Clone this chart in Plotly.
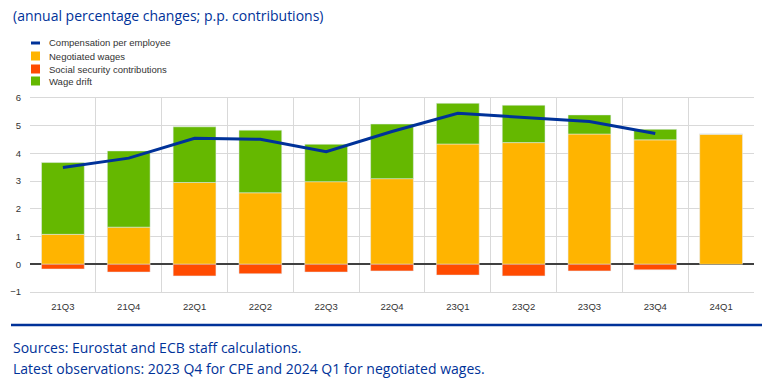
import plotly.graph_objects as go

categories = ["21Q3", "21Q4", "22Q1", "22Q2", "22Q3", "22Q4", "23Q1", "23Q2", "23Q3", "23Q4", "24Q1"]
negotiated_wages = [1.08, 1.34, 2.95, 2.58, 2.98, 3.09, 4.34, 4.39, 4.70, 4.49, 4.70]
social_security = [-0.17, -0.28, -0.42, -0.34, -0.28, -0.24, -0.39, -0.42, -0.24, -0.20, 0.0]
wage_drift = [2.59, 2.75, 2.01, 2.26, 1.35, 1.97, 1.47, 1.35, 0.69, 0.38, 0.0]
compensation = [3.49, 3.83, 4.55, 4.51, 4.06, 4.79, 5.45, 5.31, 5.15, 4.72, None]

legend_labels = ["Compensation per employee", "Negotiated wages", "Social security contributions", "Wage drift"]
subtitle = "(annual percentage changes; p.p. contributions)"
note1 = "Sources: Eurostat and ECB staff calculations."
note2 = "Latest observations: 2023 Q4 for CPE and 2024 Q1 for negotiated wages."

W, H = 765, 383
L, R, T, B = 30, 754, 98, 292
C_NEG, C_SSC, C_DRIFT, C_LINE = "#FFB400", "#FF4B00", "#65B800", "#003299"
BLUE = "#003299"

def px_x(x):
    return (x - L) / (R - L)

def px_y(y):
    return (B - y) / (B - T)

fig = go.Figure()
fig.add_bar(x=categories, y=negotiated_wages, marker_color=C_NEG, name=legend_labels[1])
fig.add_bar(x=categories, y=social_security, marker_color=C_SSC, name=legend_labels[2])
fig.add_bar(x=categories, y=wage_drift, marker_color=C_DRIFT, name=legend_labels[3])
fig.add_scatter(x=categories, y=compensation, mode="lines", line=dict(color=C_LINE, width=3),
                name=legend_labels[0])

fig.update_layout(
    width=W, height=H,
    margin=dict(l=L, r=W - R, t=T, b=H - B, pad=0),
    paper_bgcolor="white", plot_bgcolor="white",
    barmode="relative", bargap=0.35,
    showlegend=False,
    font=dict(family="Arial, Liberation Sans", size=9, color="#333333"),
)
fig.update_xaxes(type="category", tickson="boundaries", showgrid=True, gridcolor="#d9d9d9",
                 gridwidth=1, ticks="", tickfont=dict(size=9.5, color="#333333"),
                 showline=True, linecolor="#d9d9d9", mirror=True, ticklabelstandoff=6)
fig.update_yaxes(range=[-1, 6], dtick=1, showgrid=True, gridcolor="#d9d9d9", gridwidth=1,
                 zeroline=True, zerolinecolor="#404040", zerolinewidth=1.5,
                 tickfont=dict(size=9.5, color="#333333"), ticks="", ticklabelstandoff=8,
                 showline=False)

annotations = []
shapes = []
annotations.append(dict(text=subtitle, x=px_x(11), y=px_y(16), xref="paper", yref="paper",
                        xanchor="left", yanchor="middle", showarrow=False,
                        font=dict(family="Open Sans", size=14, color=BLUE)))
annotations.append(dict(text=note1, x=px_x(11), y=px_y(347), xref="paper", yref="paper",
                        xanchor="left", yanchor="middle", showarrow=False,
                        font=dict(family="Open Sans", size=14, color=BLUE)))
annotations.append(dict(text=note2, x=px_x(11), y=px_y(368), xref="paper", yref="paper",
                        xanchor="left", yanchor="middle", showarrow=False,
                        font=dict(family="Open Sans", size=14, color=BLUE)))

# custom legend
leg_y = [43, 56, 69, 81]
leg_colors = [C_LINE, C_NEG, C_SSC, C_DRIFT]
for i, (lab, col, yy) in enumerate(zip(legend_labels, leg_colors, leg_y)):
    if i == 0:
        shapes.append(dict(type="rect", xref="paper", yref="paper", x0=px_x(31), x1=px_x(40),
                           y0=px_y(yy + 1.5), y1=px_y(yy - 1.5), fillcolor=col, line_width=0))
    else:
        shapes.append(dict(type="rect", xref="paper", yref="paper", x0=px_x(31), x1=px_x(40),
                           y0=px_y(yy + 4.5), y1=px_y(yy - 4.5), fillcolor=col, line_width=0))
    annotations.append(dict(text=lab, x=px_x(47), y=px_y(yy), xref="paper", yref="paper",
                            xanchor="left", yanchor="middle", showarrow=False,
                            font=dict(family="Arial, Liberation Sans", size=9.5, color="#333333")))

shapes.append(dict(type="line", xref="paper", yref="paper", x0=px_x(11), x1=px_x(762),
                   y0=px_y(325), y1=px_y(325), line=dict(color=BLUE, width=2.5)))

fig.update_layout(annotations=annotations, shapes=shapes)
fig.write_html("out.html", config={"displayModeBar": False},
               post_script="document.body.style.margin='0';document.body.style.padding='0';document.body.style.overflow='hidden';")
